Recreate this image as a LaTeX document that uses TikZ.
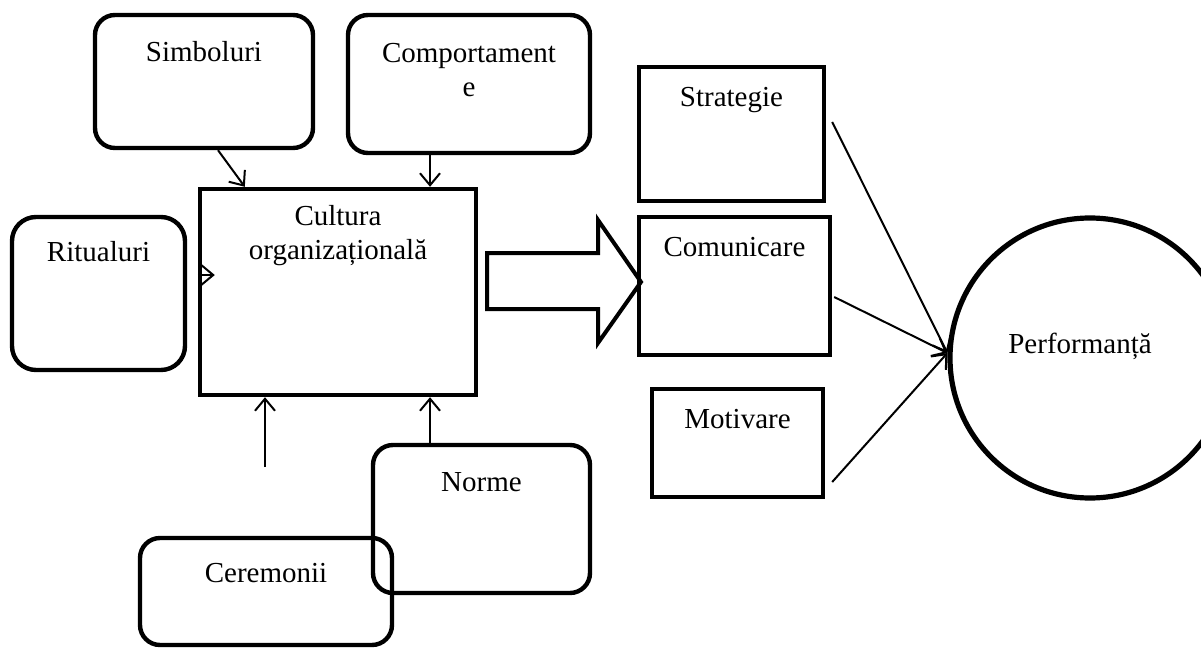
\documentclass[tikz,border=0pt]{standalone}
\usepackage{fontspec}
\setmainfont{Liberation Serif}
\usetikzlibrary{positioning, arrows.meta}
\tikzset{
  % Culture diagram
  softbox/.style   = { draw, line width=2.2pt, rounded corners=10pt, inner sep=0 },
  hardbox/.style   = { draw, line width=2.2pt, inner sep=0 },
  boxlabel/.style  = { inner sep=0, align=center,
                       font=\fontsize{14.5pt}{17pt}\selectfont },
  onelabel/.style  = { boxlabel, text height=10pt },
  thinarrow/.style = { line width=1pt, -{Straight Barb[length=6pt,width=10pt]} },
  bigarrow/.style  = { draw, line width=2pt, line join=miter }
}

\begin{document}
\begin{tikzpicture}[x=0.5pt, y=-0.5pt]
  \useasboundingbox (0,0) rectangle (1201,648);
  \clip (0,0) rectangle (1201,648);

  % --- the culture and what feeds it ---------------------------------
  \node[hardbox, minimum width=138pt, minimum height=103pt] (cult) at (338,292) {};
  \node[boxlabel, below=9pt of cult.north] (culttxt) {Cultura\\organizațională};

  \node[softbox, minimum width=109pt, minimum height=66.5pt] (simb) at (204,81.5) {};
  \node[onelabel, below=14pt of simb.north] (simbtxt) {Simboluri};

  \node[softbox, minimum width=121pt, minimum height=69pt] (comp) at (469,84) {};
  \node[boxlabel, below=15pt of comp.north] (comptxt) {Comportament\\e};

  \node[softbox, rounded corners=12pt, minimum width=86.5pt, minimum height=76.5pt] (rit) at (98.5,293.5) {};
  \node[onelabel, below=13pt of rit.north] (rittxt) {Ritualuri};

  \node[softbox, minimum width=108.5pt, minimum height=74pt] (norme) at (481.5,519) {};
  \node[onelabel, below=14pt of norme.north] (normetxt) {Norme};

  \node[softbox, minimum width=126pt, minimum height=53.5pt] (cer) at (266,591.5) {};
  \node[onelabel, below=13pt of cer.north] (certxt) {Ceremonii};

  \draw[thinarrow] ([xshift=7pt]simb.south) -- ([xshift=23.5pt]cult.north west);
  \coordinate (compbot) at ([xshift=-19.5pt]comp.south);
  \draw[thinarrow] (compbot) -- (compbot |- cult.north);
  \draw[thinarrow] ([yshift=8.5pt]cult.west) -- ++(8.5pt,0);
  \coordinate (cerin) at (265,467);
  \draw[thinarrow] (cerin) -- (cerin |- cult.south);
  \coordinate (normtop) at ([xshift=-25.75pt]norme.north);
  \draw[thinarrow] (normtop) -- (normtop |- cult.south);

  % block arrow towards the outcomes
  \draw[bigarrow] (487,253) -- (598,253) -- (598,220) -- (641,282)
                  -- (598,343) -- (598,309) -- (487,309) -- cycle;

  % --- outcomes and performance --------------------------------------
  \node[hardbox, minimum width=92.5pt, minimum height=67pt] (strat) at (731.5,134) {};
  \node[onelabel, below=10.5pt of strat.north] (strattxt) {Strategie};

  \node[hardbox, minimum width=95.5pt, minimum height=69pt] (comm) at (734.5,286) {};
  \node[onelabel, below=10.5pt of comm.north] (commtxt) {Comunicare};

  \node[hardbox, minimum width=85.5pt, minimum height=54pt] (motiv) at (737.5,443) {};
  \node[onelabel, below=10.5pt of motiv.north] (motivtxt) {Motivare};

  \node[circle, draw, line width=2.6pt, minimum size=140pt, inner sep=0] (perf) at (1090,358) {};
  \node[onelabel, anchor=base] (perftxt) at ([xshift=-5pt,yshift=2.5pt]perf.center) {Performanță};

  \draw[thinarrow] ([xshift=3pt,yshift=6pt]strat.east) -- ([yshift=2.5pt]perf.west);
  \draw[thinarrow] ([xshift=1pt,yshift=-5.5pt]comm.east) -- ([yshift=2.5pt]perf.west);
  \draw[thinarrow] ([xshift=3.5pt,yshift=-19.5pt]motiv.east) -- ([yshift=2.5pt]perf.west);

\end{tikzpicture}
\end{document}
